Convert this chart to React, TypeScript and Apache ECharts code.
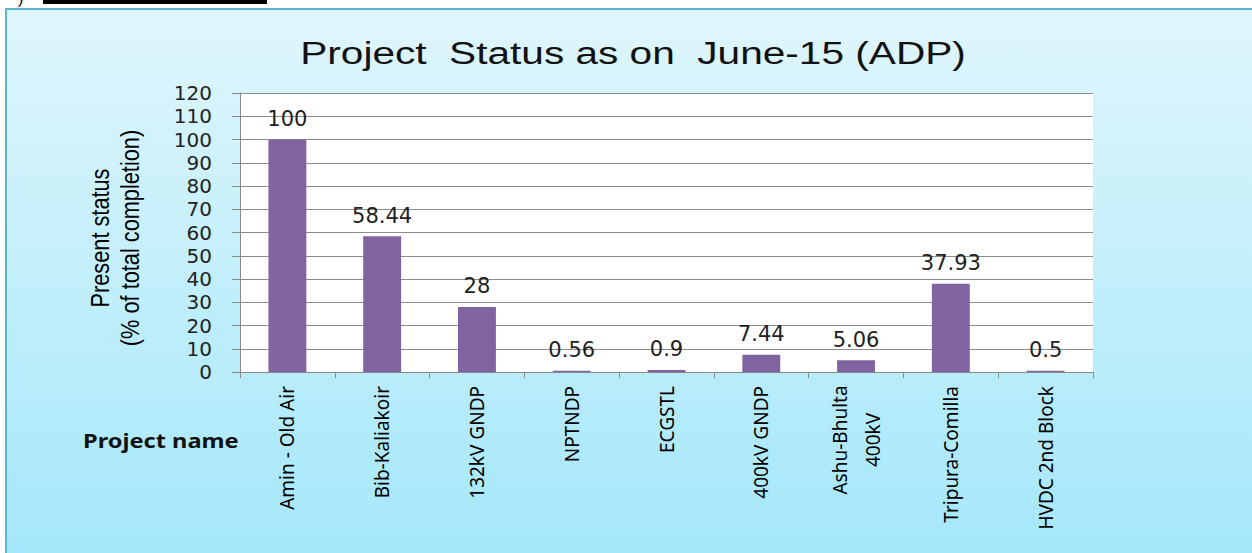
import React, { useEffect, useRef } from "react";
import * as echarts from "echarts";

const categories = [
  "Amin - Old Air",
  "Bib-Kaliakoir",
  "132kV GNDP",
  "NPTNDP",
  "ECGSTL",
  "400kV GNDP",
  "Ashu-Bhulta\n400kV",
  "Tripura-Comilla",
  "HVDC 2nd Block",
];
const values = [100, 58.44, 28, 0.56, 0.9, 7.44, 5.06, 37.93, 0.5];
const titleText = "Project  Status as on  June-15 (ADP)";
const yAxisTitle = "Present status\n(% of total completion)";
const xAxisTitle = "Project name";

export default function App() {
  const ref = useRef<HTMLDivElement>(null);
  useEffect(() => {
    if (!ref.current) return;
    const chart = echarts.init(ref.current, null, { renderer: "svg" });
    chart.setOption({
      animation: false,
      backgroundColor: "#ffffff",
      graphic: [
        {
          type: "rect",
          z: -10,
          shape: { x: 6, y: 9, width: 1260, height: 560 },
          style: {
            fill: new echarts.graphic.LinearGradient(0, 0, 0, 1, [
              { offset: 0, color: "#e0f6fc" },
              { offset: 1, color: "#a3e7fa" },
            ]),
            stroke: "#5ab6cf",
            lineWidth: 2,
          },
        },
        {
          type: "rect",
          z: -5,
          shape: { x: 43, y: 0, width: 224, height: 4 },
          style: { fill: "#000" },
        },
        {
          type: "text",
          z: -5,
          x: 18,
          y: -10,
          style: { text: ")", fontSize: 16, fill: "#000", fontFamily: "Liberation Sans" },
        },
        {
          type: "text",
          x: 633,
          y: 53,
          scaleX: 1.31,
          style: {
            text: titleText,
            fontFamily: "Liberation Sans",
            fontSize: 31,
            fill: "#111",
            align: "center",
            verticalAlign: "middle",
          },
        },
        {
          type: "text",
          x: 115,
          y: 238,
          rotation: Math.PI / 2,
          scaleX: 0.87,
          style: {
            text: yAxisTitle,
            fontFamily: "Liberation Sans",
            fontSize: 25,
            lineHeight: 30,
            fill: "#000",
            align: "center",
            verticalAlign: "middle",
          },
        },
        {
          type: "text",
          x: 83,
          y: 440,
          scaleX: 1.18,
          style: {
            text: xAxisTitle,
            fontFamily: "Noto Sans",
            fontWeight: "bold",
            fontSize: 20,
            fill: "#111",
            verticalAlign: "middle",
          },
        },
      ],
      grid: {
        left: 240,
        right: 159,
        top: 93,
        bottom: 181,
        show: true,
        backgroundColor: "#ffffff",
        borderWidth: 0,
      },
      xAxis: {
        type: "category",
        data: categories,
        axisLine: { show: true, lineStyle: { color: "#8a8a8a", width: 1 } },
        axisTick: { show: true, length: 6, interval: 0, lineStyle: { color: "#8a8a8a" } },
        axisLabel: {
          interval: 0,
          rotate: 90,
          margin: 14,
          fontFamily: "Noto Sans",
          fontSize: 19,
          lineHeight: 33,
          color: "#000",
          formatter: (v: string) =>
            v.indexOf("\n") >= 0
              ? v
                  .split("\n")
                  .map((l) => `{c|${l}}`)
                  .join("\n")
              : v,
          rich: {
            c: {
              width: 108,
              align: "center",
              fontFamily: "Noto Sans",
              fontSize: 19,
              lineHeight: 33,
              color: "#000",
            },
          },
        },
      },
      yAxis: {
        type: "value",
        min: 0,
        max: 120,
        interval: 10,
        axisLine: { show: true, lineStyle: { color: "#8a8a8a", width: 1 } },
        axisTick: { show: true, length: 8, lineStyle: { color: "#8a8a8a" } },
        axisLabel: {
          margin: 28,
          fontFamily: "DejaVu Sans",
          fontSize: 20,
          color: "#222",
        },
        splitLine: { show: true, lineStyle: { color: "#8c8c8c", width: 1 } },
      },
      series: [
        {
          type: "bar",
          data: values,
          barWidth: "40%",
          itemStyle: { color: "#8064a2" },
          label: {
            show: true,
            position: "top",
            distance: 10,
            fontFamily: "DejaVu Sans",
            fontSize: 21,
            color: "#222",
          },
        },
      ],
    });
    return () => chart.dispose();
  }, []);
  return (
    <div
      ref={ref}
      style={{ position: "fixed", left: 0, top: 0, width: 1252, height: 553 }}
    />
  );
}
